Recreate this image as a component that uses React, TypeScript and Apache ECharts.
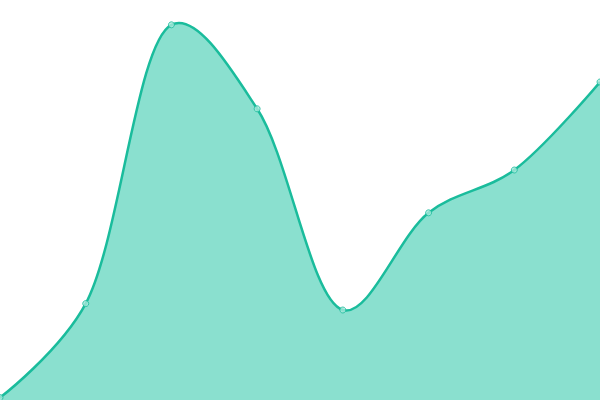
import React, { useEffect, useRef } from 'react';
import * as echarts from 'echarts';

const categories = ['A', 'B', 'C', 'D', 'E', 'F', 'G', 'H'];
const values = [0.6, 24.1, 93.8, 72.8, 22.5, 46.8, 57.5, 79.5];

// Catmull-Rom (alpha between uniform and centripetal) through screen points
const ALPHA = 0.35;
const splinePath = (pts: number[][]) => {
  const dist = (a: number[], b: number[]) => Math.hypot(b[0] - a[0], b[1] - a[1]);
  let d = `M${pts[0][0]},${pts[0][1]}`;
  for (let i = 0; i < pts.length - 1; i++) {
    const p0 = pts[Math.max(i - 1, 0)];
    const p1 = pts[i];
    const p2 = pts[i + 1];
    const p3 = pts[Math.min(i + 2, pts.length - 1)];
    const l01a = Math.pow(dist(p0, p1), ALPHA), l12a = Math.pow(dist(p1, p2), ALPHA), l23a = Math.pow(dist(p2, p3), ALPHA);
    const l01 = l01a * l01a, l12 = l12a * l12a, l23 = l23a * l23a;
    let c1 = p1, c2 = p2;
    if (l01a > 1e-6) {
      const a = 2 * l01 + 3 * l01a * l12a + l12;
      const n = 3 * l01a * (l01a + l12a);
      c1 = [0, 1].map(k => (p1[k] * a - p0[k] * l12 + p2[k] * l01) / n);
    }
    if (l23a > 1e-6) {
      const b = 2 * l23 + 3 * l23a * l12a + l12;
      const m = 3 * l23a * (l23a + l12a);
      c2 = [0, 1].map(k => (p2[k] * b + p1[k] * l23 - p3[k] * l12) / m);
    }
    d += ` C${c1[0]},${c1[1]} ${c2[0]},${c2[1]} ${p2[0]},${p2[1]}`;
  }
  return d;
};

const App: React.FC = () => {
  const chartRef = useRef<HTMLDivElement>(null);

  useEffect(() => {
    document.body.style.margin = '0';
    if (!chartRef.current) return;
    const chart = echarts.init(chartRef.current, undefined, { renderer: 'svg' });

    const option: echarts.EChartsOption = {
      animation: false,
      grid: { left: 0, right: 0, top: 0, bottom: 0 },
      xAxis: {
        type: 'category',
        data: categories,
        boundaryGap: false,
        show: false,
      },
      yAxis: {
        type: 'value',
        min: 0,
        max: 100,
        show: false,
      },
      series: [
        {
          type: 'custom',
          data: values.map((v, i) => [i, v]),
          encode: { x: 0, y: 1 },
          silent: true,
          renderItem: (params: any, api: any) => {
            if (params.dataIndex !== 0) return null;
            const pts = values.map((v, i) => api.coord([i, v]));
            const base = api.coord([0, 0])[1];
            const line = splinePath(pts);
            const last = pts[pts.length - 1];
            const area = `${line} L${last[0]},${base} L${pts[0][0]},${base} Z`;
            return {
              type: 'group',
              children: [
                { type: 'path', shape: { pathData: area }, style: { fill: '#8ae0cf', stroke: 'none' } },
                { type: 'path', shape: { pathData: line }, style: { fill: 'none', stroke: '#1abc9c', lineWidth: 2.5 } },
              ],
            };
          },
        },
        {
          type: 'scatter',
          data: values,
          symbol: 'circle',
          symbolSize: 6,
          silent: true,
          itemStyle: { color: '#a6e8db', borderColor: '#1abc9c', borderWidth: 1 },
          z: 3,
        },
      ],
    };

    chart.setOption(option);
    return () => chart.dispose();
  }, []);

  return <div ref={chartRef} style={{ width: 600, height: 400 }} />;
};

export default App;
